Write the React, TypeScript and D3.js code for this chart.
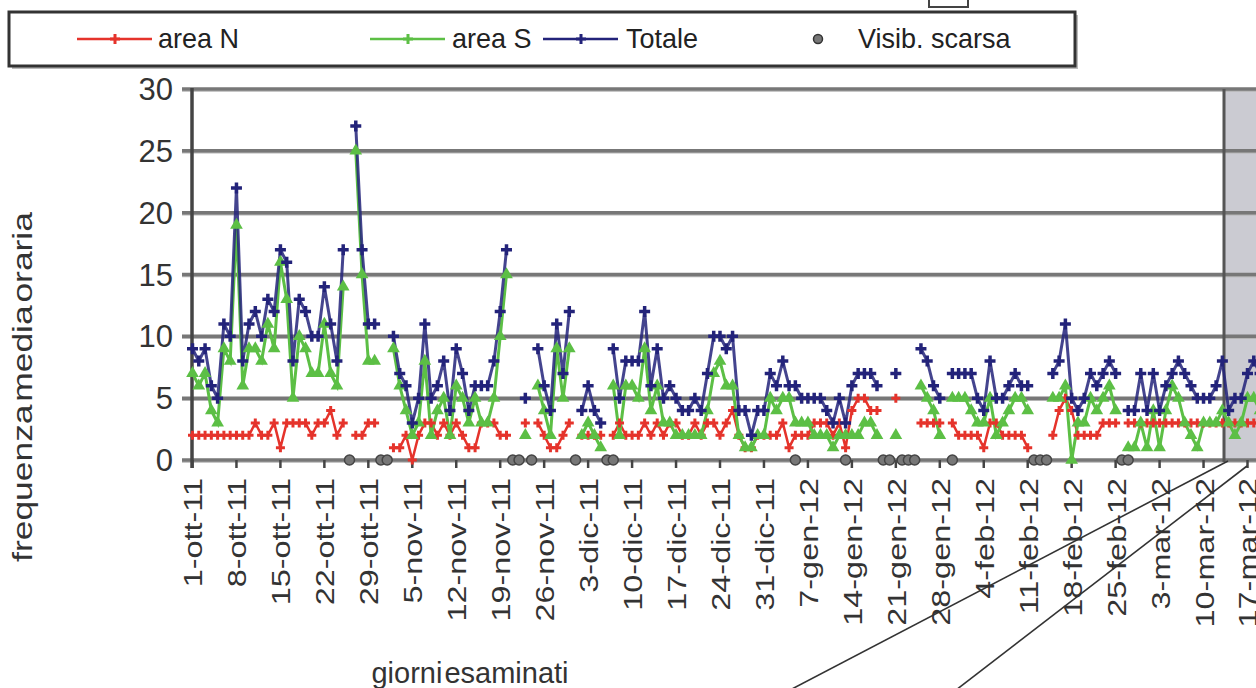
import React from 'react';
import * as d3 from 'd3';

// daily values, day 0 = 1-ott-11
const totale: (number | null)[] = [
  9, 8, 9, 6, 5, 11, 10, 22, 8, 11,
  12, 10, 13, 12, 17, 16, 8, 13, 12, 10,
  10, 14, 11, 8, 17, null, 27, 17, 11, 11,
  null, null, 10, 7, 6, 3, 5, 11, 5, 6,
  8, 4, 9, 7, 4, 6, 6, 6, 8, 12,
  17, null, null, 5, null, 9, 6, 4, 11, 7,
  12, null, 4, 6, 4, 3, null, 9, 5, 8,
  8, 8, 12, 6, 9, 5, 6, 5, 4, 4,
  5, 4, 7, 10, 10, 9, 10, 4, 4, 2,
  4, 4, 7, 6, 8, 6, 6, 5, 5, 5,
  5, 4, 3, 5, 3, 6, 7, 7, 7, 6,
  null, null, 7, null, null, null, 9, 8, 6, 5,
  null, 7, 7, 7, 7, 5, 4, 8, 5, 5,
  6, 7, 6, 6, null, null, null, 7, 8, 11,
  5, 4, 5, 7, 6, 7, 8, 7, null, 4,
  4, 7, 4, 7, 4, 6, 7, 8, 7, 6,
  5, 5, 5, 6, 8, 4, 5, 5, 7, 8, 7,
];

const areaN: (number | null)[] = [
  2, 2, 2, 2, 2, 2, 2, 2, 2, 2,
  3, 2, 2, 3, 1, 3, 3, 3, 3, 2,
  3, 3, 4, 2, 3, null, 2, 2, 3, 3,
  null, null, 1, 1, 2, 0, 2, 3, 3, 2,
  3, 2, 3, 2, 1, 1, 3, 3, 3, 2,
  2, null, null, 3, null, 3, 2, 1, 1, 2,
  3, null, 2, 2, 2, 2, null, 2, 3, 2,
  2, 2, 3, 2, 3, 2, 3, 3, 2, 2,
  3, 2, 3, 3, 2, 3, 4, 2, 1, 1,
  2, 2, 2, 2, 3, 1, 2, 2, 2, 3,
  3, 3, 2, 3, 1, 4, 5, 5, 4, 4,
  null, null, 5, null, null, null, 3, 3, 3, 3,
  null, 3, 2, 2, 2, 2, 1, 3, 3, 2,
  2, 2, 2, 1, null, null, null, 2, 4, 5,
  4, 2, 2, 2, 2, 3, 3, 3, null, 3,
  3, 3, 3, 3, 3, 3, 3, 3, 3, 3,
  3, 3, 3, 3, 3, 3, 3, 3, 3, 3, 3,
];

const areaS: (number | null)[] = [
  7, 6, 7, 4, 3, 9, 8, 19, 6, 9,
  9, 8, 11, 9, 16, 13, 5, 10, 9, 7,
  7, 11, 7, 6, 14, null, 25, 15, 8, 8,
  null, null, 9, 6, 4, 2, 3, 8, 2, 4,
  5, 2, 6, 5, 3, 5, 3, 3, 5, 10,
  15, null, null, 2, null, 6, 4, 2, 9, 5,
  9, null, 2, 3, 2, 1, null, 6, 2, 6,
  6, 5, 9, 4, 6, 3, 3, 2, 2, 2,
  2, 2, 4, 7, 8, 6, 6, 2, 1, 1,
  2, 2, 5, 4, 5, 5, 3, 3, 3, 2,
  2, 2, 1, 2, 2, 2, 2, 3, 3, 2,
  null, null, 2, null, null, null, 6, 5, 4, 2,
  null, 5, 5, 5, 4, 3, 3, 5, 2, 3,
  4, 5, 5, 4, null, null, null, 5, 5, 6,
  0, 3, 3, 5, 4, 5, 6, 4, null, 1,
  1, 3, 1, 4, 1, 4, 6, 5, 3, 2,
  1, 3, 3, 3, 4, 3, 2, 3, 5, 5, 4,
];

// days with poor visibility (plotted at 0)
const visibDays = [25, 30, 31, 51, 52, 54, 61, 66, 67, 96, 104, 110, 111, 113, 114, 115, 121, 134, 135, 136, 148, 149];

const yTicks = [0, 5, 10, 15, 20, 25, 30];

const weekLabels = [
  '1-ott-11', '8-ott-11', '15-ott-11', '22-ott-11', '29-ott-11',
  '5-nov-11', '12-nov-11', '19-nov-11', '26-nov-11', '3-dic-11',
  '10-dic-11', '17-dic-11', '24-dic-11', '31-dic-11', '7-gen-12',
  '14-gen-12', '21-gen-12', '28-gen-12', '4-feb-12', '11-feb-12',
  '18-feb-12', '25-feb-12', '3-mar-12', '10-mar-12', '17-mar-12',
];

const legendItems = [
  { label: 'area N', kind: 'N' },
  { label: 'area S', kind: 'S' },
  { label: 'Totale', kind: 'T' },
  { label: 'Visib. scarsa', kind: 'V' },
];

const COL_N = '#e5332b';
const COL_S = '#5cbf45';
const COL_T = '#23237a';
const FONT = '"Liberation Sans", Arial, sans-serif';

function plus(cx: number, cy: number, s: number) {
  return `M${cx - s},${cy}H${cx + s}M${cx},${cy - s}V${cy + s}`;
}

export default function App() {
  const W = 1256;
  const H = 688;
  const x = d3.scaleLinear().domain([0, 168]).range([192.5, 1247.5]);
  const y = d3.scaleLinear().domain([0, 30]).range([460, 89]);

  const mk = (arr: (number | null)[]) =>
    d3
      .line<number | null>()
      .defined((d) => d != null)
      .x((_, i) => x(i))
      .y((d) => y(d as number))(arr) || '';

  const tri = d3.symbol().type(d3.symbolTriangle).size(70);

  const legendX = [77, 370, 543, 818];
  const legendTextX = [158, 452, 626, 858];

  return (
    <svg
      width={W}
      height={H}
      style={{ position: 'absolute', left: 0, top: 0, background: '#fff' }}
      fontFamily={FONT}
    >
      {/* small box at top */}
      <rect x={929} y={-4} width={39} height={11} fill="#fff" stroke="#444" strokeWidth={2} />

      {/* legend */}
      <rect x={12} y={15} width={1066} height={54} fill="#bbb" />
      <rect x={9} y={12} width={1066} height={54} fill="#fff" stroke="#333" strokeWidth={3} />
      {legendItems.map((it, i) => {
        const lx = legendX[i];
        const cy = 39;
        const txt = (
          <text
            transform={`translate(${legendTextX[i]},${cy + 9}) scale(1,1.05)`}
            fontSize={27}
            fill="#222"
          >
            {it.label}
          </text>
        );
        if (it.kind === 'V') {
          return (
            <g key={it.label}>
              <circle cx={lx} cy={cy} r={4.5} fill="#777" stroke="#333" strokeWidth={1.5} />
              {txt}
            </g>
          );
        }
        const col = it.kind === 'N' ? COL_N : it.kind === 'S' ? COL_S : COL_T;
        return (
          <g key={it.label}>
            <line x1={lx} x2={lx + 75} y1={cy} y2={cy} stroke={col} strokeWidth={2.5} />
            <path d={plus(lx + 38, cy, 5)} stroke={col} strokeWidth={3} />
            {txt}
          </g>
        );
      })}

      {/* shaded highlight region */}
      <rect x={1224} y={89} width={40} height={371} fill="#cbcbd2" />

      {/* gridlines */}
      {yTicks.map((v) => (
        <g key={v}>
          <line x1={182} x2={W} y1={y(v) + 2} y2={y(v) + 2} stroke="#b5b5b5" strokeWidth={1.5} />
          <line x1={182} x2={W} y1={y(v)} y2={y(v)} stroke="#777" strokeWidth={3.5} />
          <text x={173} y={y(v) + 11} textAnchor="end" fontSize={31} fill="#333">{v}</text>
        </g>
      ))}
      <line x1={1224} x2={1224} y1={89} y2={462} stroke="#555" strokeWidth={3} />
      {/* y axis */}
      <line x1={192} x2={192} y1={88} y2={468} stroke="#444" strokeWidth={3.5} />

      {/* x ticks and labels */}
      {weekLabels.map((lab, i) => {
        const xx = x(i * 7);
        return (
          <g key={lab}>
            <line x1={xx} x2={xx} y1={460} y2={468} stroke="#444" strokeWidth={2.5} />
            <text
              transform={`translate(${xx + 1},${478}) rotate(-90) scale(1.2,0.95)`}
              textAnchor="end"
              dy="0.35em"
              fontSize={27}
              fill="#333"
            >
              {lab}
            </text>
          </g>
        );
      })}

      {/* series lines */}
      <path d={mk(areaN)} fill="none" stroke={COL_N} strokeWidth={2.5} />
      <path d={mk(areaS)} fill="none" stroke={COL_S} strokeWidth={3} />
      <path d={mk(totale)} fill="none" stroke={COL_T} strokeWidth={3} strokeOpacity={0.85} />

      {/* markers */}
      {areaN.map((v, i) =>
        v == null ? null : <path key={'n' + i} d={plus(x(i), y(v), 4.5)} stroke={COL_N} strokeWidth={3} />
      )}
      {areaS.map((v, i) =>
        v == null ? null : (
          <path key={'s' + i} d={tri() || ''} transform={`translate(${x(i)},${y(v)})`} fill={COL_S} />
        )
      )}
      {totale.map((v, i) =>
        v == null ? null : <path key={'t' + i} d={plus(x(i), y(v), 5.5)} stroke={COL_T} strokeWidth={3.5} />
      )}
      {visibDays.map((d) => (
        <circle key={'v' + d} cx={x(d)} cy={y(0)} r={5} fill="#777" stroke="#444" strokeWidth={1.5} />
      ))}

      {/* axis titles */}
      <text
        transform="translate(32,387) rotate(-90) scale(1.18,0.95)"
        textAnchor="middle"
        fontSize={30}
        fill="#333"
        wordSpacing={-6}
      >
        frequenza media oraria
      </text>
      <text x={470} y={683} textAnchor="middle" fontSize={29} fill="#333" wordSpacing={-6}>
        giorni esaminati
      </text>

      {/* callout lines */}
      <line x1={1228} y1={461} x2={790} y2={690} stroke="#333" strokeWidth={1.6} />
      <line x1={1247} y1={466} x2={956} y2={690} stroke="#333" strokeWidth={1.6} />
    </svg>
  );
}
